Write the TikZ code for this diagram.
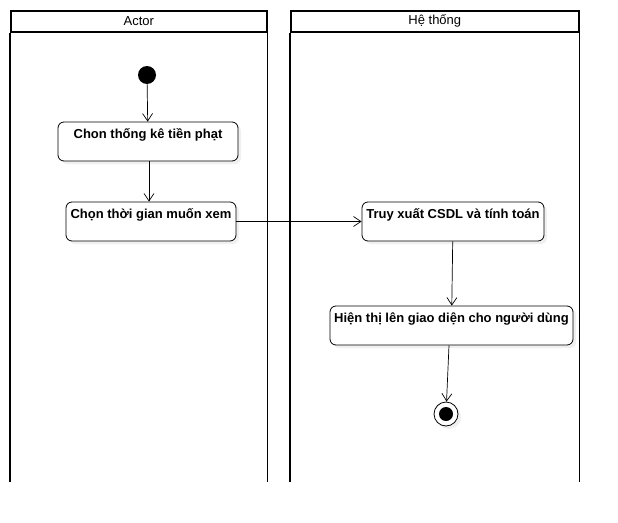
\documentclass[tikz,border=0pt]{standalone}
\usepackage{fontspec}
\setmainfont{Liberation Sans}
\usetikzlibrary{positioning, arrows.meta, calc, shadows}

\begin{document}
\begin{tikzpicture}[
    x=1pt, y=-1pt,
    lane/.style={draw=black, line width=1.6pt, minimum height=21pt,
                 inner sep=0pt, anchor=north west,
                 font=\fontsize{13}{15}\selectfont},
    laneline/.style={line width=1.6pt},
    act/.style={draw=black, rounded corners=6pt, line width=0.8pt, fill=white,
                inner xsep=2pt, inner ysep=4pt,
                text height=12.5pt, text depth=18.5pt,
                font=\bfseries\fontsize{13}{15}\selectfont,
                drop shadow={shadow xshift=3pt, shadow yshift=-3pt, opacity=0.12}},
    initial/.style={circle, fill=black, minimum size=18pt, inner sep=0pt},
    final/.style={circle, draw=black, line width=0.8pt, fill=white,
                  minimum size=24pt, inner sep=0pt,
                  drop shadow={shadow xshift=3pt, shadow yshift=-3pt, opacity=0.12}},
    arr/.style={-{Straight Barb[length=7.5pt, width=10pt]}, line width=0.7pt},
]
\useasboundingbox (0,0) rectangle (618,522);

% Swimlanes
\node[lane, minimum width=256pt] (actor) at (10,10) {Actor};
\node[lane, minimum width=288pt] (system) at (290,10) {Hệ thống};
\coordinate (bottom) at (0,482);
\draw[laneline] (actor.south west) -- (actor.south west |- bottom);
\draw[laneline] (actor.south east) -- (actor.south east |- bottom);
\draw[laneline] (system.south west) -- (system.south west |- bottom);
\draw[laneline] (system.south east) -- (system.south east |- bottom);

% Actor lane
\node[initial] (start) at (147,75) {};
\node[act, minimum width=180pt] (choose) at (148,141.5) {Chon thống kê tiền phạt};
\node[act, minimum width=170pt] (period) at (151,221.5) {Chọn thời gian muốn xem};

% System lane
\node[act, minimum width=182pt] (query) at (453,221.5) {Truy xuất CSDL và tính toán};
\node[act, minimum width=243pt] (show) at (451.5,325.5) {Hiện thị lên giao diện cho người dùng};
\node[final] (stop) at (446,414) {};
\node[initial, minimum size=14pt] (stopdot) at (stop) {};

% Flow
\draw[arr] (start) -- (choose);
\draw[arr] ([xshift=1pt]choose.south) -- ([xshift=1pt]choose.south |- period.north);
\draw[arr] (period) -- (query);
\draw[arr] (query) -- (show);
\draw[arr] ([xshift=-2.5pt]show.south) -- (stop);

\end{tikzpicture}
\end{document}
